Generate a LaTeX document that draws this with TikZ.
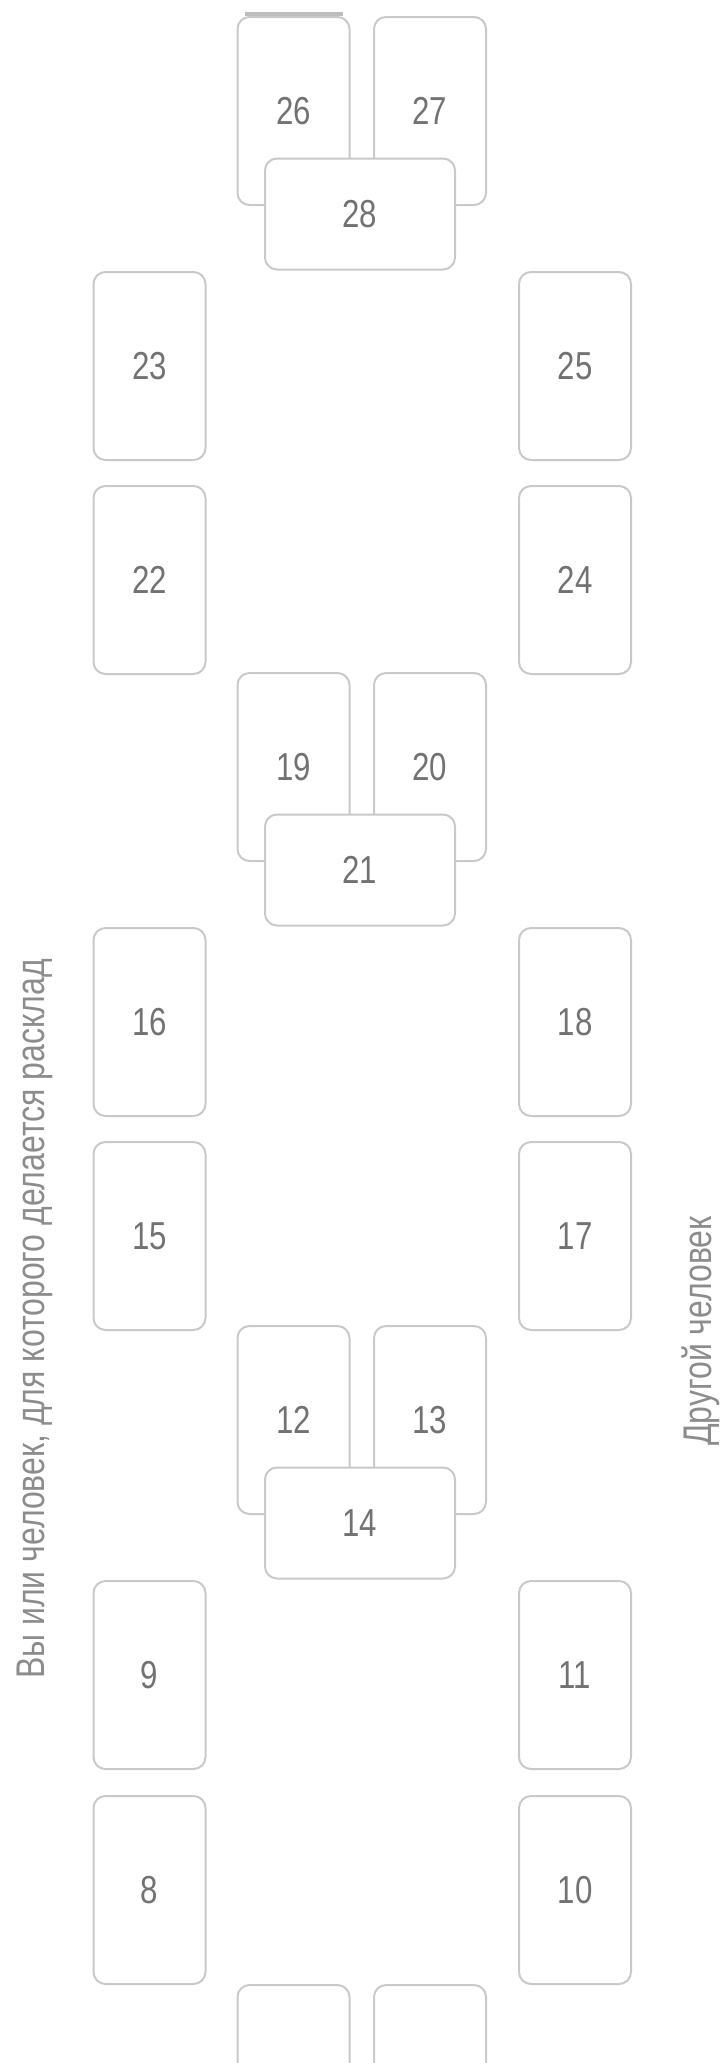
\documentclass[tikz,border=0pt]{standalone}
\usepackage{fontspec}
\setmainfont{Liberation Sans}[FakeStretch=0.8]
\usetikzlibrary{positioning}
\definecolor{cline}{HTML}{C9C9C9}
\definecolor{cbar}{HTML}{BDBDBD}
\definecolor{cdigit}{HTML}{727272}
\definecolor{clabel}{HTML}{8C8C8C}

\begin{document}
\begin{tikzpicture}[
  x=0.5pt, y=-0.5pt,
  font=\fontsize{19.5}{23}\selectfont,
  card/.style={draw=cline, fill=white, line width=1pt, rounded corners=6pt,
               text=cdigit, inner sep=0pt},
  vcard/.style={card, minimum width=56pt, minimum height=94pt},
  hcard/.style={card, minimum width=95pt, minimum height=55.5pt},
  side/.style={text=clabel, rotate=90, anchor=base, inner sep=0pt,
               font=\fontsize{20}{24}\selectfont},
  topbar/.style={draw=cbar, line width=2pt}
]
\useasboundingbox (0,0) rectangle (727,2063);
\clip (0,0) rectangle (727,2063);

% top group
\node[vcard] (c26) at (293.5,111) {26};
\node[vcard] (c27) at (430,111) {27};
\node[hcard] (c28) at (360,214) {28};
\draw[topbar] ([xshift=4pt,yshift=1.25pt]c26.north west) -- ([xshift=-4pt,yshift=1.25pt]c26.north east);
\node[vcard] (c23) at (149.5,366) {23};
\node[vcard] (c22) at (149.5,580) {22};
\node[vcard] (c25) at (575,366) {25};
\node[vcard] (c24) at (575,580) {24};

% middle group
\node[vcard] (c19) at (293.5,767) {19};
\node[vcard] (c20) at (430,767) {20};
\node[hcard] (c21) at (360,870) {21};
\node[vcard] (c16) at (149.5,1022) {16};
\node[vcard] (c15) at (149.5,1236) {15};
\node[vcard] (c18) at (575,1022) {18};
\node[vcard] (c17) at (575,1236) {17};

% lower group
\node[vcard] (c12) at (293.5,1420) {12};
\node[vcard] (c13) at (430,1420) {13};
\node[hcard] (c14) at (360,1523) {14};
\node[vcard] (c9) at (149.5,1675) {9};
\node[vcard] (c8) at (149.5,1890) {8};
\node[vcard] (c11) at (575,1675) {11};
\node[vcard] (c10) at (575,1890) {10};

% cut-off pair
\node[vcard] (c5) at (293.5,2079) {};
\node[vcard] (c6) at (430,2079) {};

% side labels
\node[side] (lself) at (44,1319) {Вы или человек, для которого делается расклад};
\node[side] (lother) at (711,1331) {Другой человек};
\end{tikzpicture}
\end{document}
